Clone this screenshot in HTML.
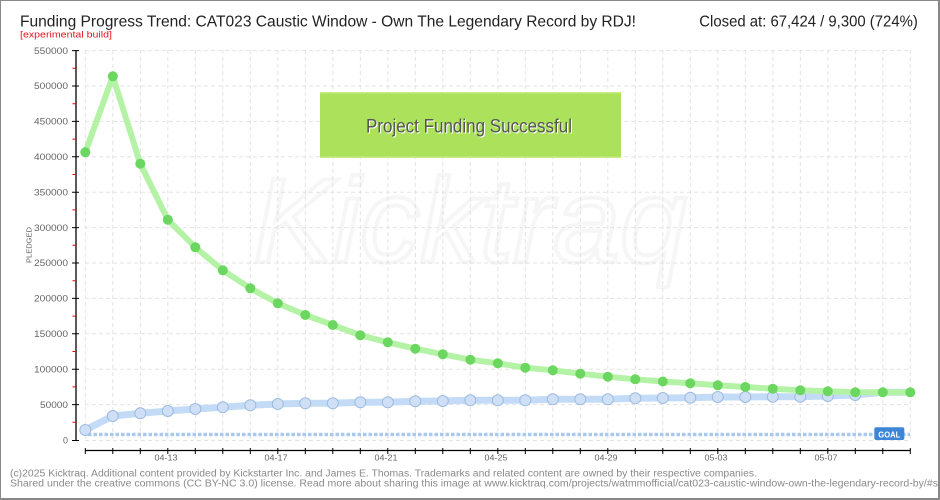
<!DOCTYPE html>
<html><head><meta charset="utf-8"><style>
html,body{margin:0;padding:0;background:#fff;}
svg{display:block;}
text{font-family:"Liberation Sans",sans-serif;}
</style></head><body>
<svg width="940" height="500" viewBox="0 0 940 500" xmlns="http://www.w3.org/2000/svg">
<rect x="0" y="0" width="940" height="500" fill="#fff"/>
<!-- watermark -->
<text x="470" y="262" text-anchor="middle" font-size="120" font-style="italic" fill="none" stroke="#f6f6f6" stroke-width="4" font-family="Liberation Serif,serif">Kicktraq</text>
<!-- grid -->
<g stroke="#e3e3e3" stroke-width="1" stroke-dasharray="4,3" fill="none">
<path d="M85 440.5H910M85 404.6H910M85 369.2H910M85 333.8H910M85 298.4H910M85 263H910M85 227.6H910M85 192.2H910M85 156.8H910M85 121.4H910M85 86H910M85 50.6H910"/>
<path d="M85.3 50V440M112.8 50V440M140.3 50V440M167.8 50V440M195.3 50V440M222.8 50V440M250.3 50V440M277.8 50V440M305.3 50V440M332.8 50V440M360.3 50V440M387.8 50V440M415.3 50V440M442.8 50V440M470.3 50V440M497.8 50V440M525.3 50V440M552.8 50V440M580.3 50V440M607.8 50V440M635.3 50V440M662.8 50V440M690.3 50V440M717.8 50V440M745.3 50V440M772.8 50V440M800.3 50V440M827.8 50V440M855.3 50V440M882.8 50V440M910.3 50V440"/>
</g>
<!-- success box -->
<rect x="320" y="92" width="301" height="66" fill="#abe15b"/>
<rect x="320" y="92" width="301" height="1.5" fill="#c4ec85"/>
<rect x="320" y="156.5" width="301" height="1.5" fill="#c4ec85"/>
<text x="367" y="133.5" font-size="19" fill="#fff" textLength="206" lengthAdjust="spacingAndGlyphs">Project Funding Successful</text>
<text x="366" y="132.3" font-size="19" fill="#555" textLength="206" lengthAdjust="spacingAndGlyphs">Project Funding Successful</text>
<!-- goal line -->
<line x1="88" y1="434.5" x2="910" y2="434.5" stroke="#a9c9ee" stroke-width="3.5" stroke-dasharray="3.5,2"/>
<rect x="874.3" y="427.3" width="30" height="12.7" rx="2" fill="#3d85d6"/>
<text x="889.3" y="437.3" text-anchor="middle" font-size="8.5" fill="#fff" font-weight="bold" textLength="22" lengthAdjust="spacingAndGlyphs">GOAL</text>
<!-- blue series -->
<polyline fill="none" stroke="#c3dbf6" stroke-width="7" stroke-linejoin="round" points="85.3,430 112.8,416 140.3,413.3 167.8,411 195.3,409 222.8,407.3 250.3,405.3 277.8,404 305.3,403.3 332.8,403.3 360.3,402.3 387.8,402.3 415.3,401.3 442.8,401 470.3,400.3 497.8,400.3 525.3,400.3 552.8,399.3 580.3,399.3 607.8,399.3 635.3,398.3 662.8,398 690.3,397.7 717.8,397 745.3,397 772.8,396.7 800.3,396.7 827.8,396 855.3,395 882.8,392.3 910.3,392.3"/>
<g fill="#cfe0f6" stroke="#9dbbe0" stroke-width="1">
<circle cx="85.3" cy="430" r="5.5"/><circle cx="112.8" cy="416" r="5.5"/><circle cx="140.3" cy="413.3" r="5.5"/><circle cx="167.8" cy="411" r="5.5"/><circle cx="195.3" cy="409" r="5.5"/><circle cx="222.8" cy="407.3" r="5.5"/><circle cx="250.3" cy="405.3" r="5.5"/><circle cx="277.8" cy="404" r="5.5"/><circle cx="305.3" cy="403.3" r="5.5"/><circle cx="332.8" cy="403.3" r="5.5"/><circle cx="360.3" cy="402.3" r="5.5"/><circle cx="387.8" cy="402.3" r="5.5"/><circle cx="415.3" cy="401.3" r="5.5"/><circle cx="442.8" cy="401" r="5.5"/><circle cx="470.3" cy="400.3" r="5.5"/><circle cx="497.8" cy="400.3" r="5.5"/><circle cx="525.3" cy="400.3" r="5.5"/><circle cx="552.8" cy="399.3" r="5.5"/><circle cx="580.3" cy="399.3" r="5.5"/><circle cx="607.8" cy="399.3" r="5.5"/><circle cx="635.3" cy="398.3" r="5.5"/><circle cx="662.8" cy="398" r="5.5"/><circle cx="690.3" cy="397.7" r="5.5"/><circle cx="717.8" cy="397" r="5.5"/><circle cx="745.3" cy="397" r="5.5"/><circle cx="772.8" cy="396.7" r="5.5"/><circle cx="800.3" cy="396.7" r="5.5"/><circle cx="827.8" cy="396" r="5.5"/><circle cx="855.3" cy="395" r="5.5"/>
</g>
<!-- green series -->
<polyline fill="none" stroke="#b4f3a5" stroke-width="6" stroke-linejoin="round" points="85.3,152.3 112.8,76.3 140.3,163.7 167.8,219.7 195.3,247.3 222.8,270.3 250.3,288.3 277.8,303.3 305.3,315 332.8,325 360.3,335.3 387.8,342.3 415.3,348.7 442.8,354.3 470.3,359.7 497.8,363.3 525.3,367.7 552.8,370.3 580.3,373.7 607.8,376.7 635.3,379.3 662.8,381.5 690.3,383.3 717.8,385.3 745.3,387 772.8,388.7 800.3,390.3 827.8,391.3 855.3,392.3 882.8,392.3 910.3,392.3"/>
<g fill="#6bd760">
<circle cx="85.3" cy="152.3" r="5"/><circle cx="112.8" cy="76.3" r="5"/><circle cx="140.3" cy="163.7" r="5"/><circle cx="167.8" cy="219.7" r="5"/><circle cx="195.3" cy="247.3" r="5"/><circle cx="222.8" cy="270.3" r="5"/><circle cx="250.3" cy="288.3" r="5"/><circle cx="277.8" cy="303.3" r="5"/><circle cx="305.3" cy="315" r="5"/><circle cx="332.8" cy="325" r="5"/><circle cx="360.3" cy="335.3" r="5"/><circle cx="387.8" cy="342.3" r="5"/><circle cx="415.3" cy="348.7" r="5"/><circle cx="442.8" cy="354.3" r="5"/><circle cx="470.3" cy="359.7" r="5"/><circle cx="497.8" cy="363.3" r="5"/><circle cx="525.3" cy="367.7" r="5"/><circle cx="552.8" cy="370.3" r="5"/><circle cx="580.3" cy="373.7" r="5"/><circle cx="607.8" cy="376.7" r="5"/><circle cx="635.3" cy="379.3" r="5"/><circle cx="662.8" cy="381.5" r="5"/><circle cx="690.3" cy="383.3" r="5"/><circle cx="717.8" cy="385.3" r="5"/><circle cx="745.3" cy="387" r="5"/><circle cx="772.8" cy="388.7" r="5"/><circle cx="800.3" cy="390.3" r="5"/><circle cx="827.8" cy="391.3" r="5"/><circle cx="855.3" cy="392.3" r="5"/><circle cx="882.8" cy="392.3" r="5"/><circle cx="910.3" cy="392.3" r="5"/>
</g>
<!-- y axis -->
<line x1="76" y1="50" x2="76" y2="440.5" stroke="#000" stroke-width="1.3"/>
<path d="M72 440.5H79M72 404.6H79M72 369.2H79M72 333.8H79M72 298.4H79M72 263H79M72 227.6H79M72 192.2H79M72 156.8H79M72 121.4H79M72 86H79M72 50.6H79" stroke="#000" stroke-width="1"/>
<path d="M72.5 422.3H76M72.5 386.9H76M72.5 351.5H76M72.5 316.1H76M72.5 280.7H76M72.5 245.3H76M72.5 209.9H76M72.5 174.5H76M72.5 139.1H76M72.5 103.7H76M72.5 68.3H76" stroke="#e00" stroke-width="1"/>
<g font-size="9" fill="#666" text-anchor="end">
<text x="68" y="443.5">0</text>
<text x="68" y="407.8" textLength="28" lengthAdjust="spacingAndGlyphs">50000</text>
<text x="68" y="372.4" textLength="34" lengthAdjust="spacingAndGlyphs">100000</text>
<text x="68" y="337" textLength="34" lengthAdjust="spacingAndGlyphs">150000</text>
<text x="68" y="301.6" textLength="34" lengthAdjust="spacingAndGlyphs">200000</text>
<text x="68" y="266.2" textLength="34" lengthAdjust="spacingAndGlyphs">250000</text>
<text x="68" y="230.8" textLength="34" lengthAdjust="spacingAndGlyphs">300000</text>
<text x="68" y="195.4" textLength="34" lengthAdjust="spacingAndGlyphs">350000</text>
<text x="68" y="160" textLength="34" lengthAdjust="spacingAndGlyphs">400000</text>
<text x="68" y="124.6" textLength="34" lengthAdjust="spacingAndGlyphs">450000</text>
<text x="68" y="89.2" textLength="34" lengthAdjust="spacingAndGlyphs">500000</text>
<text x="68" y="53.8" textLength="34" lengthAdjust="spacingAndGlyphs">550000</text>
</g>
<text transform="translate(31.5,245) rotate(-90)" text-anchor="middle" font-size="7.5" fill="#666" textLength="36" lengthAdjust="spacingAndGlyphs">PLEDGED</text>
<!-- x axis -->
<line x1="85.3" y1="450.5" x2="910.3" y2="450.5" stroke="#000" stroke-width="1.3"/>
<path d="M85.3 448V454M112.8 448V454M140.3 448V454M167.8 448V454M195.3 448V454M222.8 448V454M250.3 448V454M277.8 448V454M305.3 448V454M332.8 448V454M360.3 448V454M387.8 448V454M415.3 448V454M442.8 448V454M470.3 448V454M497.8 448V454M525.3 448V454M552.8 448V454M580.3 448V454M607.8 448V454M635.3 448V454M662.8 448V454M690.3 448V454M717.8 448V454M745.3 448V454M772.8 448V454M800.3 448V454M827.8 448V454M855.3 448V454M882.8 448V454M910.3 448V454" stroke="#000" stroke-width="1"/>
<g font-size="8" fill="#666" text-anchor="middle">
<text x="166" y="460.5" textLength="23" lengthAdjust="spacingAndGlyphs">04-13</text>
<text x="276" y="460.5" textLength="23" lengthAdjust="spacingAndGlyphs">04-17</text>
<text x="386" y="460.5" textLength="23" lengthAdjust="spacingAndGlyphs">04-21</text>
<text x="496" y="460.5" textLength="23" lengthAdjust="spacingAndGlyphs">04-25</text>
<text x="606" y="460.5" textLength="23" lengthAdjust="spacingAndGlyphs">04-29</text>
<text x="716" y="460.5" textLength="23" lengthAdjust="spacingAndGlyphs">05-03</text>
<text x="826" y="460.5" textLength="23" lengthAdjust="spacingAndGlyphs">05-07</text>
</g>
<!-- titles -->
<text x="20" y="26.7" font-size="16" fill="#222" textLength="616" lengthAdjust="spacingAndGlyphs">Funding Progress Trend: CAT023 Caustic Window - Own The Legendary Record by RDJ!</text>
<text x="20" y="37.5" font-size="9" fill="#e8141c" textLength="92" lengthAdjust="spacingAndGlyphs">[experimental build]</text>
<text x="699.3" y="26.7" font-size="16" fill="#222" textLength="218.5" lengthAdjust="spacingAndGlyphs">Closed at:  67,424 /  9,300 (724%)</text>
<!-- footer -->
<text x="10" y="476.7" font-size="10" fill="#8a8a8a" textLength="747" lengthAdjust="spacingAndGlyphs">(c)2025 Kicktraq. Additional content provided by Kickstarter Inc. and James E. Thomas. Trademarks and related content are owned by their respective companies.</text>
<text x="10" y="486.7" font-size="10" fill="#8a8a8a" textLength="928" lengthAdjust="spacingAndGlyphs">Shared under the creative commons (CC BY-NC 3.0) license. Read more about sharing this image at www.kicktraq.com/projects/watmmofficial/cat023-caustic-window-own-the-legendary-record-by/#s</text>
<!-- border -->
<rect x="0.5" y="0.5" width="938" height="498" fill="none" stroke="#888" stroke-width="1"/>
<rect x="938" y="0" width="2" height="500" fill="#888"/>
<rect x="0" y="498" width="940" height="2" fill="#888"/>
</svg>
</body></html>
